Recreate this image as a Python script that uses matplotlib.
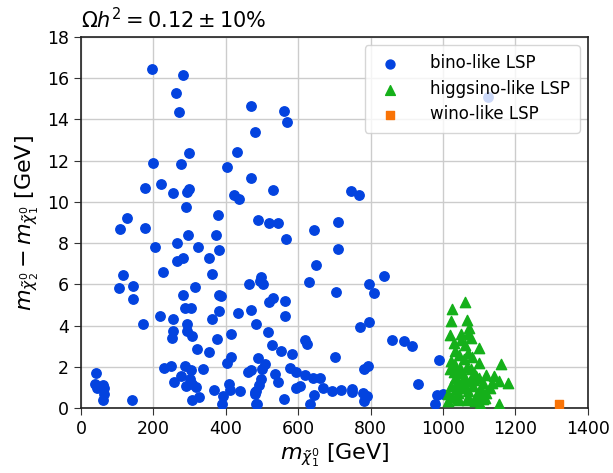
import matplotlib
matplotlib.use("Agg")
import matplotlib.pyplot as plt

# bino-like LSP points (m_chi1 [GeV], mass splitting [GeV])
bino_x = [196, 283, 262, 270, 470, 480, 298, 431, 200, 276, 404, 470, 176, 222, 254, 292, 298, 424, 437,
          289, 127, 378, 489, 560, 569, 530, 747, 769, 519, 545, 710, 567, 644, 709, 650, 836, 631, 796,
          810, 704, 498, 494, 504, 464, 531, 519, 563, 471, 563, 484, 518, 527, 553, 582, 618, 623, 771,
          796, 859, 891, 913, 701, 490, 507, 501, 469, 578, 593, 535, 545, 783, 792, 620, 640, 659, 496,
          492, 484, 481, 593, 606, 668, 693, 718, 750, 748, 780, 791, 782, 930, 644, 632, 562, 486,
          107, 176, 297, 373, 264, 204, 324, 382, 354, 264, 283, 227, 363, 117, 105, 145, 145, 316, 282,
          382, 388, 288, 305, 382, 433, 218, 254, 362, 171, 294, 254, 252, 293, 308, 376, 415, 321, 355,
          415, 404, 42, 229, 248, 288, 304, 337, 276, 256, 302, 308, 290, 317, 40, 44, 61, 65, 63, 62,
          142, 308, 325, 368, 393, 389, 409, 411, 440, 462, 480, 483, 990, 984, 978, 999, 1124]
bino_y = [16.45, 16.15, 15.3, 14.36, 14.64, 13.38, 12.36, 12.4, 11.91, 11.85, 11.69, 11.17, 10.68, 10.85,
          10.41, 10.46, 10.62, 10.35, 10.15, 9.75, 9.23, 9.35, 9.1, 14.4, 13.88, 10.56, 10.51, 10.34, 8.98,
          9.0, 9.05, 8.21, 8.65, 7.70, 6.92, 6.41, 6.10, 6.0, 5.58, 5.65, 6.36, 6.16, 6.0, 6.03, 5.33, 5.15,
          5.2, 4.76, 4.45, 4.07, 3.69, 3.05, 2.77, 2.64, 3.29, 3.10, 3.95, 4.16, 3.32, 3.26, 3.0, 2.48, 2.45,
          2.13, 1.92, 1.84, 1.94, 1.77, 1.65, 1.27, 1.89, 2.06, 1.6, 1.48, 1.48, 1.43, 1.13, 0.84, 0.68,
          1.0, 1.08, 0.97, 0.84, 0.87, 0.95, 0.77, 0.73, 0.60, 0.35, 1.19, 0.63, 0.22, 0.44, 0.22,
          8.68, 8.75, 8.38, 8.41, 8.02, 7.81, 7.81, 7.67, 7.29, 7.13, 7.28, 6.6, 6.52, 6.46, 5.84, 5.91,
          5.29, 5.86, 5.49, 5.5, 5.42, 4.84, 4.84, 4.7, 4.62, 4.45, 4.32, 4.34, 4.1, 4.07, 3.76, 3.39, 3.76,
          3.52, 3.36, 3.58, 2.87, 2.73, 2.48, 2.18, 1.71, 1.97, 2.06, 2.06, 1.84, 1.92, 1.58, 1.26, 1.4,
          1.16, 1.08, 1.03, 1.19, 1.0, 1.13, 0.97, 0.71, 0.39, 0.40, 0.40, 0.55, 0.89, 0.6, 0.22, 1.19,
          0.87, 0.84, 1.74, 0.8, 0.2, 2.34, 0.63, 0.22, 0.71, 15.1]

# higgsino-like LSP points
higgs_x = [1062, 1026, 1023, 1067, 1071, 1020, 1049, 1031, 1077, 1060, 1100, 1032, 1069, 1023, 1058, 1099,
           1159, 1019, 1046, 1078, 1120, 1141, 1155, 1179, 1033, 1060, 1092, 1023, 1051, 1083, 1111, 1129,
           1014, 1042, 1069, 1097, 1120, 1014, 1042, 1065, 1101, 1155, 1088, 1033, 1051, 1035, 1055, 1075,
           1085, 1105, 1025, 1070, 1040, 1090, 1110, 1045, 1065, 1085, 1040, 1060, 1100, 1080, 1050, 1070,
           1030, 1115, 1135]
higgs_y = [5.15, 4.79, 4.23, 4.28, 3.9, 3.53, 3.58, 3.18, 3.42, 3.07, 2.93, 2.77, 2.69, 2.29, 2.37, 2.21,
           2.16, 1.89, 1.97, 1.89, 1.61, 1.56, 1.32, 1.24, 1.48, 1.48, 1.56, 1.08, 1.16, 1.08, 1.24, 1.0,
           0.68, 0.76, 0.84, 0.76, 0.76, 0.35, 0.39, 0.40, 0.19, 0.19, 0.35, 2.1, 1.72, 0.95, 1.0, 1.3,
           1.35, 0.95, 0.55, 0.55, 0.5, 0.6, 0.45, 2.6, 2.0, 1.7, 1.3, 1.1, 1.45, 2.5, 3.3, 3.6,
           1.75, 0.5, 1.2]

# wino-like LSP points
wino_x = [1321]
wino_y = [0.19]

fig = plt.figure(figsize=(6.13, 4.73), dpi=100)
ax = fig.add_axes([0.132, 0.137, 0.827, 0.785])

ax.grid(True, color='#cccccc', linewidth=1.0, zorder=0)
ax.set_axisbelow(True)

ax.scatter(bino_x, bino_y, s=46, color='#0343df', marker='o', label='bino-like LSP', zorder=3)
ax.scatter(higgs_x, higgs_y, s=55, color='#15b01a', marker='^', label='higgsino-like LSP', zorder=3)
ax.scatter(wino_x, wino_y, s=38, color='#f97306', marker='s', label='wino-like LSP', zorder=3)

ax.set_xlim(0, 1400)
ax.set_ylim(0, 18)
ax.set_xticks(range(0, 1401, 200))
ax.set_yticks(range(0, 19, 2))
ax.tick_params(labelsize=12.5, color='#333333', length=5)
for sp in ax.spines.values():
    sp.set_color('#222222')
    sp.set_linewidth(1.2)

ax.set_xlabel(r'$m_{\tilde{\chi}_1^0}$ [GeV]', fontsize=16, labelpad=2)
ax.set_ylabel(r'$m_{\tilde{\chi}_2^0} - m_{\tilde{\chi}_1^0}$ [GeV]', fontsize=16, labelpad=4)
ax.set_title(r'$\Omega h^2 = 0.12 \pm 10\%$', loc='left', fontsize=15, pad=6)

leg = ax.legend(loc='upper right', fontsize=12, framealpha=0.8, edgecolor='#cccccc',
                handletextpad=1.4, borderpad=0.55, labelspacing=0.45, markerscale=0.95)

fig.savefig('out.png', dpi=100)
